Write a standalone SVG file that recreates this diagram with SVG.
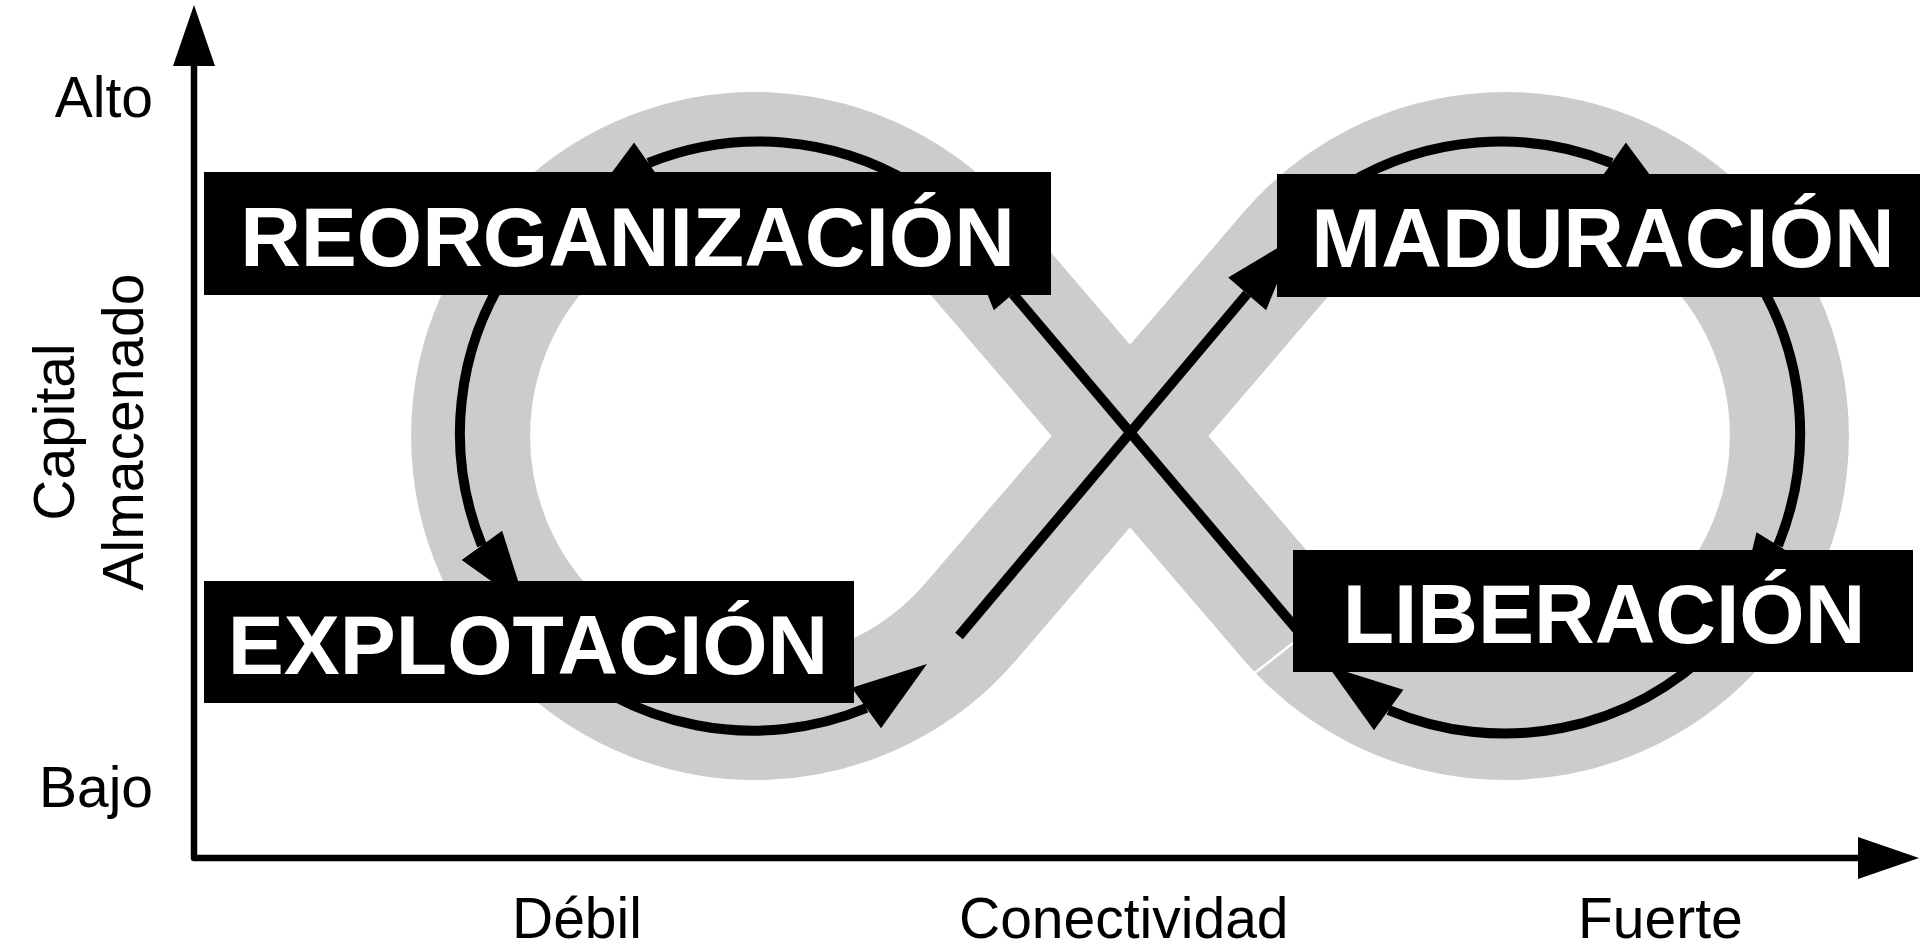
<svg xmlns="http://www.w3.org/2000/svg" xmlns:xlink="http://www.w3.org/1999/xlink" width="1920" height="951" viewBox="0 0 1920 951">
  <style>
    .band { fill: none; stroke: #cccccc; stroke-width: 119; stroke-linejoin: miter; }
    .flow { fill: none; stroke: #000000; stroke-width: 10; stroke-linecap: butt; }
    .axis { fill: none; stroke: #000000; stroke-width: 6.5; stroke-linejoin: round; stroke-linecap: butt; }
    .box { fill: #000000; }
    .phase { font-family: "Liberation Sans", Arial, sans-serif; font-weight: bold; font-size: 84px; fill: #ffffff; text-anchor: middle; }
    .lbl { font-family: "Liberation Sans", Arial, sans-serif; font-size: 57px; fill: #000000; }
  </style>
  <defs>
    <path id="ah" d="M0,0 L-75,-25 L-75,25 Z" fill="#000000"/>
    <path id="axh" d="M0,0 L-61,-21 L-61,21 Z" fill="#000000"/>
  </defs>
  <rect x="0" y="0" width="1920" height="951" fill="#ffffff"/>

  <g id="band">
    <path class="band" d="M1130,436 L1289.1,250.6 A284.5,284.5 0 1 1 1289.1,621.4 L970.9,250.6 A284.5,284.5 0 1 0 970.9,621.4 Z"/>
    <line x1="1251" y1="676" x2="1293" y2="643" stroke="#ffffff" stroke-width="2.5"/>
  </g>

  <g id="axes">
    <polyline class="axis" points="194,62 194,858 1862,858"/>
    <use href="#axh" transform="translate(194,5) rotate(-90)"/>
    <use href="#axh" transform="translate(1919,858)"/>
    <text class="lbl" x="153" y="117" text-anchor="end">Alto</text>
    <text class="lbl" x="153" y="807" text-anchor="end">Bajo</text>
    <text class="lbl" transform="translate(74,432) rotate(-90)" text-anchor="middle">Capital</text>
    <text class="lbl" transform="translate(143,432) rotate(-90)" text-anchor="middle">Almacenado</text>
    <text class="lbl" x="512" y="938">Débil</text>
    <text class="lbl" x="959" y="938">Conectividad</text>
    <text class="lbl" x="1578" y="938">Fuerte</text>
  </g>

  <g id="connectors">
    <path class="flow" d="M545,646 A297,297 0 0 0 866.3,708"/>
    <use href="#ah" transform="translate(927,664) rotate(-36)"/>
    <path class="flow" d="M959,636 L1247.1,293.9"/>
    <use href="#ah" transform="translate(1296,237) rotate(-49.35)"/>
    <path class="flow" d="M1347.6,184.1 A297,297 0 0 1 1611.6,163"/>
    <use href="#ah" transform="translate(1673,206) rotate(35)"/>
    <path class="flow" d="M1756.9,278.6 A297,297 0 0 1 1778,545.5"/>
    <use href="#ah" transform="translate(1738,609) rotate(122)"/>
    <path class="flow" d="M1715,646 A297,297 0 0 1 1388.7,710.1"/>
    <use href="#ah" transform="translate(1328,666) rotate(216)"/>
    <path class="flow" d="M1310,645 L1012.9,293.9"/>
    <use href="#ah" transform="translate(964,237) rotate(229.35)"/>
    <path class="flow" d="M912.4,184.1 A297,297 0 0 0 648.4,163"/>
    <use href="#ah" transform="translate(587,206) rotate(145)"/>
    <path class="flow" d="M511.7,265.6 A297,297 0 0 0 481.9,545.3"/>
    <use href="#ah" transform="translate(526,606) rotate(54)"/>
  </g>

  <g id="reorganizacion">
    <rect class="box" x="204" y="172" width="847" height="123"/>
    <text class="phase" x="627.5" y="266">REORGANIZACIÓN</text>
  </g>
  <g id="maduracion">
    <rect class="box" x="1277" y="174" width="643" height="123"/>
    <text class="phase" x="1603" y="267">MADURACIÓN</text>
  </g>
  <g id="explotacion">
    <rect class="box" x="204" y="581" width="650" height="122"/>
    <text class="phase" x="528" y="674">EXPLOTACIÓN</text>
  </g>
  <g id="liberacion">
    <rect class="box" x="1293" y="550" width="620" height="122"/>
    <text class="phase" x="1604" y="643">LIBERACIÓN</text>
  </g>
</svg>
